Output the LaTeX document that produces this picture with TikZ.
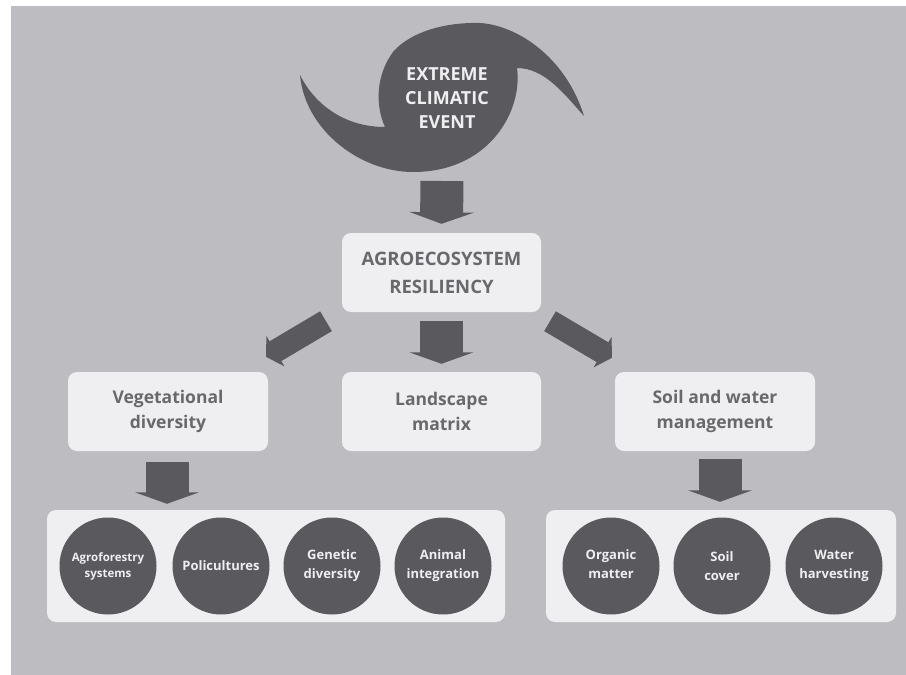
\documentclass[tikz,border=0pt]{standalone}
\usepackage{fontspec}
\setmainfont{Open Sans}
\usetikzlibrary{arrows.meta,calc}
\definecolor{bgc}{HTML}{BDBCC0}
\definecolor{boxc}{HTML}{EFEFF1}
\definecolor{darkc}{HTML}{5A595E}
\definecolor{txtc}{HTML}{69686C}
\tikzset{
  x=1pt,y=-1pt,
  panel/.style={fill=boxc,draw=none,rounded corners=9pt,inner sep=0pt,align=center,text=txtc,font=\bfseries\fontsize{17.5}{25}\selectfont},
  disc/.style={circle,fill=darkc,draw=none,minimum size=97pt,inner sep=0pt,align=center,text=boxc,font=\bfseries\fontsize{13}{19}\selectfont},
  bigarrow/.style={draw=darkc,line width=43pt,-{Triangle[length=11.5pt,width=64pt]}},
  slantarrow/.style={draw=darkc,line width=23pt,-{Triangle[length=11pt,width=35pt]}},
}
\begin{document}
\begin{tikzpicture}
\useasboundingbox (0,0) rectangle (906,675);
\fill[white] (0,0) rectangle (906,675);
\fill[bgc] (11,6) rectangle (906,675);
% storm
\fill[darkc] (300,75) .. controls (315,105) and (345,127) .. (385,127)
  .. controls (375,105) and (376,75) .. (393,52)
  .. controls (410,32) and (445,22) .. (480,23)
  .. controls (515,25) and (565,55) .. (584,116)
  .. controls (565,95) and (545,68) .. (517,68)
  .. controls (523,110) and (490,172) .. (413,172)
  .. controls (360,172) and (305,130) .. cycle;
\node[coordinate] (storm) at (442,172) {};
\node[text=boxc,align=center,font=\bfseries\fontsize{18}{24}\selectfont] (stormtext) at (447,98) {EXTREME\\CLIMATIC\\EVENT};
% boxes
\node[panel,minimum width=199pt,minimum height=79pt,font=\bfseries\fontsize{18.5}{28}\selectfont] (res) at (441.5,272.5) {AGROECOSYSTEM\\RESILIENCY};
\node[panel,minimum width=200pt,minimum height=79pt] (veg) at (168,411.5) {Vegetational\\diversity};
\node[panel,minimum width=199pt,minimum height=79pt] (land) at (441.5,411.5) {Landscape\\matrix};
\node[panel,minimum width=200pt,minimum height=79pt] (soil) at (715,411.5) {Soil and water\\management};
\node[panel,minimum width=458pt,minimum height=112pt] (g1) at (276,566) {};
\node[panel,minimum width=350pt,minimum height=112pt] (g2) at (721,566) {};
% discs
\node[disc,font=\bfseries\fontsize{11.5}{16}\selectfont] (d1) at (108,566) {Agroforestry\\systems};
\node[disc] (d2) at (221,566) {Policultures};
\node[disc] (d3) at (332,566) {Genetic\\diversity};
\node[disc] (d4) at (443,566) {Animal\\integration};
\node[disc] (d5) at (611,566) {\raisebox{3pt}{Organic}\\\raisebox{3pt}{matter}};
\node[disc] (d6) at (722,566) {Soil\\cover};
\node[disc] (d7) at (834,566) {Water\\harvesting};
% arrows
\draw[bigarrow] ([yshift=-9pt]storm) -- ([yshift=9pt]res.north);
\draw[bigarrow] ([yshift=-9pt]res.south) -- ([yshift=8pt]land.north);
\draw[slantarrow] ([shift={(-115.5pt,-9pt)}]res.south) -- ([shift={(98pt,15pt)}]veg.north);
\draw[slantarrow] ([shift={(108.5pt,-9pt)}]res.south) -- ([shift={(-103pt,14pt)}]soil.north);
\draw[bigarrow] ([xshift=-1pt,yshift=-11pt]veg.south) -- ([xshift=-1pt,yshift=6pt]veg.south |- g1.north);
\draw[bigarrow] ([xshift=5pt,yshift=-8pt]soil.south) -- ([xshift=5pt,yshift=8pt]soil.south |- g2.north);
\end{tikzpicture}
\end{document}
